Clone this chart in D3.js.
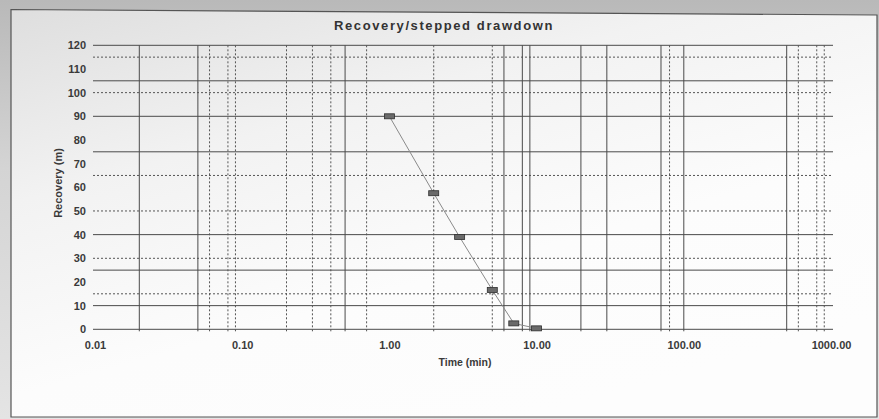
<!DOCTYPE html>
<html>
<head>
<meta charset="utf-8">
<script src="https://cdn.jsdelivr.net/npm/d3@7"></script>
<style>
  html, body { margin: 0; padding: 0; background: #cfcfcf; }
  svg { display: block; }
  text { font-family: "Liberation Sans", Arial, sans-serif; }
</style>
</head>
<body>
<svg id="chart" width="879" height="419"></svg>
<script>
// ---- data ----
const timeMin = [1, 2, 3, 5, 7, 10];
const recovery = [90, 57.5, 39, 16.6, 2.5, 0.4];
const xTicks = [0.01, 0.1, 1, 10, 100, 1000];
const yTicks = [0, 10, 20, 30, 40, 50, 60, 70, 80, 90, 100, 110, 120];
// gridlines visible in the reference (scan shows only some minor lines)
const vGridSolid = [0.02, 0.05, 0.5, 6, 8, 9, 20, 30, 70, 100, 500];
const vGridDotted = [0.06, 0.08, 0.09, 0.2, 0.3, 0.4, 0.7, 2, 5, 80, 600, 800, 900];
const hGridSolid = [0, 10, 25, 40, 75, 90, 105, 120];
const hGridDotted = [15, 30, 50, 65, 100, 115];
const titleText = "Recovery/stepped drawdown";
const xTitle = "Time (min)";
const yTitle = "Recovery (m)";

const svg = d3.select("#chart");
const W = 879, H = 419;

// background gradients
const defs = svg.append("defs");
const bg = defs.append("linearGradient").attr("id", "bg").attr("x1", 0).attr("y1", 0).attr("x2", 0).attr("y2", 1);
bg.append("stop").attr("offset", "0%").attr("stop-color", "#b9b9b9");
bg.append("stop").attr("offset", "40%").attr("stop-color", "#d4d4d4");
bg.append("stop").attr("offset", "100%").attr("stop-color", "#e4e4e4");
const inner = defs.append("linearGradient").attr("id", "inner").attr("x1", 0).attr("y1", 0).attr("x2", 0.6).attr("y2", 1);
inner.append("stop").attr("offset", "0%").attr("stop-color", "#dedede");
inner.append("stop").attr("offset", "35%").attr("stop-color", "#f2f2f2");
inner.append("stop").attr("offset", "70%").attr("stop-color", "#fcfcfc");
inner.append("stop").attr("offset", "100%").attr("stop-color", "#fdfdfd");

svg.append("rect").attr("width", W).attr("height", H).attr("fill", "url(#bg)");
svg.append("path")
  .attr("d", "M11,9.5 L877,15 L877,417 L11,417 Z")
  .attr("fill", "url(#inner)")
  .attr("stroke", "#555").attr("stroke-width", 1.2);

const x = d3.scaleLog().domain([0.01, 1000]).range([95, 831]);
const y = d3.scaleLinear().domain([0, 120]).range([329.3, 45.3]);
const xL = 93, xR = 833;

const g = svg.append("g");

// horizontal gridlines
g.selectAll(".hs").data(hGridSolid).join("line")
  .attr("x1", xL).attr("x2", xR)
  .attr("y1", d => y(d)).attr("y2", d => y(d))
  .attr("stroke", "#4a4a4a").attr("stroke-width", 1);
g.selectAll(".hd").data(hGridDotted).join("line")
  .attr("x1", xL).attr("x2", xR)
  .attr("y1", d => y(d)).attr("y2", d => y(d))
  .attr("stroke", "#555").attr("stroke-width", 1).attr("stroke-dasharray", "2,2");

// vertical gridlines
g.selectAll(".vs").data(vGridSolid).join("line")
  .attr("x1", d => x(d)).attr("x2", d => x(d))
  .attr("y1", y(120)).attr("y2", y(0) + 2)
  .attr("stroke", "#4a4a4a").attr("stroke-width", 1);
g.selectAll(".vd").data(vGridDotted).join("line")
  .attr("x1", d => x(d)).attr("x2", d => x(d))
  .attr("y1", y(120)).attr("y2", y(0) + 2)
  .attr("stroke", "#555").attr("stroke-width", 1).attr("stroke-dasharray", "2,2");

// axis labels via d3 axes (no lines)
const yAxis = svg.append("g").attr("transform", "translate(86,0)")
  .call(d3.axisLeft(y).tickValues(yTicks).tickSize(0).tickPadding(0).tickFormat(d3.format("d")));
yAxis.select(".domain").remove();
yAxis.selectAll("text").attr("font-size", "11px").attr("font-weight", "bold").attr("fill", "#3a3a3a")
  .attr("font-family", "'Liberation Sans', Arial, sans-serif");

const xAxis = svg.append("g").attr("transform", "translate(0,341)")
  .call(d3.axisBottom(x).tickValues(xTicks).tickSize(0).tickPadding(0).tickFormat(d3.format(".2f")));
xAxis.select(".domain").remove();
xAxis.selectAll("text").attr("font-size", "11px").attr("font-weight", "bold").attr("fill", "#3a3a3a")
  .attr("font-family", "'Liberation Sans', Arial, sans-serif");

// data line and markers
const pts = timeMin.map((t, i) => [t, recovery[i]]);
svg.append("path").datum(pts)
  .attr("d", d3.line().x(d => x(d[0])).y(d => y(d[1])))
  .attr("fill", "none").attr("stroke", "#8a8a8a").attr("stroke-width", 1);
svg.selectAll(".mk").data(pts).join("rect")
  .attr("x", d => x(d[0]) - 5).attr("y", d => y(d[1]) - 2.5)
  .attr("width", 10).attr("height", 5)
  .attr("fill", "#6a6a6a").attr("stroke", "#2e2e2e").attr("stroke-width", 0.8);

// titles
svg.append("text").attr("x", 444).attr("y", 29.5).attr("text-anchor", "middle")
  .attr("font-size", "13px").attr("font-weight", "bold").attr("fill", "#333")
  .attr("letter-spacing", "1.6px").text(titleText);
svg.append("text").attr("x", 465).attr("y", 365.5).attr("text-anchor", "middle")
  .attr("font-size", "10.5px").attr("font-weight", "bold").attr("fill", "#3a3a3a").text(xTitle);
svg.append("text").attr("transform", "translate(62,183) rotate(-90)").attr("text-anchor", "middle")
  .attr("font-size", "11px").attr("font-weight", "bold").attr("fill", "#3a3a3a").text(yTitle);
</script>
</body>
</html>
